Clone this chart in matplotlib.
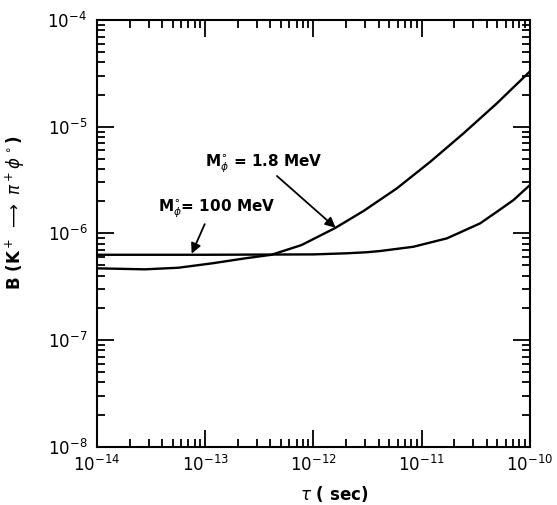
import matplotlib
matplotlib.use("Agg")
import matplotlib.pyplot as plt
from matplotlib.ticker import FixedLocator, NullFormatter

# Data (tau in sec, branching ratio B)
tau_18 = [1e-14, 2.77e-14, 5.63e-14, 1.15e-13, 2.33e-13, 4.1e-13, 7.76e-13,
          1.58e-12, 2.9e-12, 5.89e-12, 1.2e-11, 2.43e-11, 4.93e-11, 1e-10]
B_18 = [4.70e-7, 4.60e-7, 4.76e-7, 5.23e-7, 5.83e-7, 6.3e-7, 7.77e-7,
        1.12e-6, 1.62e-6, 2.64e-6, 4.69e-6, 8.65e-6, 1.65e-5, 3.3e-5]

tau_100 = [1e-14, 1e-13, 1e-12, 2e-12, 3.09e-12, 4.13e-12, 8.38e-12,
           1.71e-11, 3.46e-11, 4.93e-11, 7.03e-11, 1e-10]
B_100 = [6.3e-7, 6.3e-7, 6.35e-7, 6.5e-7, 6.65e-7, 6.83e-7, 7.49e-7,
         8.98e-7, 1.24e-6, 1.59e-6, 2.05e-6, 2.84e-6]

x_exponents = [-14, -13, -12, -11, -10]
y_exponents = [-8, -7, -6, -5, -4]

label_18 = r"M$_{\phi}^{\circ}$ = 1.8 MeV"
label_100 = r"M$_{\phi}^{\circ}$= 100 MeV"
xlabel = r"$\tau$ ( sec)"
ylabel = r"B (K$^+$ $\longrightarrow$ $\pi^+\phi^\circ$)"

plt.rcParams['mathtext.fontset'] = 'dejavusans'
fig = plt.figure(figsize=(5.57, 5.05), dpi=100)
ax = fig.add_axes([0.174, 0.1154, 0.7775, 0.8450])

ax.plot(tau_18, B_18, color='black', lw=1.7, solid_joinstyle='round')
ax.plot(tau_100, B_100, color='black', lw=1.7, solid_joinstyle='round')

ax.set_xscale('log')
ax.set_yscale('log')
ax.set_xlim(1e-14, 1e-10)
ax.set_ylim(1e-8, 1e-4)

for s in ax.spines.values():
    s.set_linewidth(1.5)

xmaj = [10.0 ** e for e in x_exponents]
ymaj = [10.0 ** e for e in y_exponents]
ax.set_xticks(xmaj, [rf"$10^{{{e}}}$" for e in x_exponents])
ax.set_yticks(ymaj, [rf"$10^{{{e}}}$" for e in y_exponents])
xmin = [m * 10.0 ** e for e in x_exponents[:-1] for m in range(2, 10)]
ymin = [m * 10.0 ** e for e in y_exponents[:-1] for m in range(2, 10)]
ax.xaxis.set_minor_locator(FixedLocator(xmin))
ax.yaxis.set_minor_locator(FixedLocator(ymin))
ax.xaxis.set_minor_formatter(NullFormatter())
ax.yaxis.set_minor_formatter(NullFormatter())

ax.tick_params(which='both', direction='in', top=True, right=True, width=1.3)
ax.tick_params(which='major', length=12, labelsize=12)
ax.tick_params(axis='x', which='major', pad=6)
ax.tick_params(axis='y', which='major', pad=7)
ax.tick_params(which='minor', length=5.5)

ax.set_xlabel(xlabel, fontsize=12, fontweight='bold')
ax.xaxis.set_label_coords(0.547, -0.088)
ax.set_ylabel(ylabel, fontsize=12, fontweight='bold')
ax.yaxis.set_label_coords(-0.162, 0.548)

# labels and arrows
ax.text(3.5e-13, 3.5e-6, label_18, fontsize=11, fontweight='bold',
        ha='center', va='bottom')
ax.annotate('', xy=(1.6e-12, 1.13e-6), xytext=(4.6e-13, 3.45e-6),
            arrowprops=dict(arrowstyle='-|>', color='black', lw=1.3,
                            mutation_scale=15, shrinkA=0, shrinkB=0))
ax.text(1.28e-13, 1.33e-6, label_100, fontsize=11, fontweight='bold',
        ha='center', va='bottom')
ax.annotate('', xy=(7.5e-14, 6.45e-7), xytext=(9.9e-14, 1.22e-6),
            arrowprops=dict(arrowstyle='-|>', color='black', lw=1.3,
                            mutation_scale=15, shrinkA=0, shrinkB=0))

fig.savefig("out.png", dpi=100)
